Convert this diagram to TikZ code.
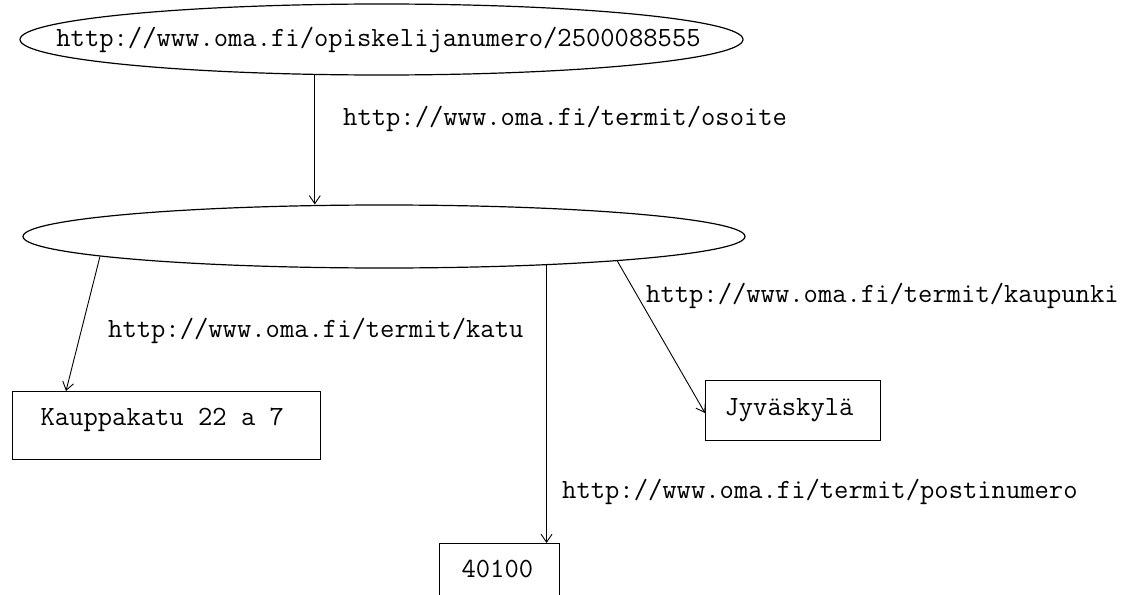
\documentclass[tikz,border=0pt]{standalone}
\usetikzlibrary{shapes.geometric,arrows.meta,calc}
\begin{document}
\begin{tikzpicture}[x=1pt,y=-1pt,
  every node/.style={font=\ttfamily\fontsize{27.8}{32}\selectfont},
  ell/.style={draw,ellipse,line width=1.2pt,inner sep=0pt},
  lit/.style={draw,rectangle,line width=1.2pt,inner ysep=0pt,anchor=north west},
  arr/.style={line width=0.9pt,-{Straight Barb[length=8pt,width=11pt]}},
  lab/.style={anchor=base west,inner sep=0pt}]
\useasboundingbox (0,0) rectangle (1129,594);
\clip (0,0) rectangle (1129,594);
\fill[white] (0,0) rectangle (1129,594);
% resources
\node[ell,minimum width=723pt,minimum height=71pt,text height=15pt,text depth=0pt] (e1) at (381.5,39.5) {\makebox[0pt]{http://www.oma.fi/opiskelijanumero/2500088555\hspace*{6pt}}};
\node[ell,minimum width=722pt,minimum height=63pt] (e2) at (384,236.5) {};
% literals
\node[lit,inner xsep=28pt,text height=34pt,text depth=34pt] (k) at (12,391) {\makebox[252pt][l]{Kauppakatu 22 a 7}};
\node[lit,inner xsep=19pt,text height=35pt,text depth=25pt] (j) at (705,380) {\makebox[137pt][l]{Jyväskylä}};
\node[lit,inner xsep=22pt,text height=34pt,text depth=34pt] (p) at (439,543) {\makebox[76pt][l]{40100}};
% connectors
\draw[arr] (e1.208) -- (e1.208 |- e2.north);
\draw[arr] (e2.184) -- ($(k.north west)+(54,0)$);
\draw[arr] (e2.350.2) -- (e2.350.2 |- p.north);
\draw[arr] (e2.354) -- ($(j.north west)+(0,33)$);
% labels
\node[lab] (l1) at (343,125) {http://www.oma.fi/termit/osoite};
\node[lab] (l2) at (108,337) {http://www.oma.fi/termit/katu};
\node[lab] (l3) at (646,302) {http://www.oma.fi/termit/kaupunki};
\node[lab] (l4) at (562,498) {http://www.oma.fi/termit/postinumero};
\end{tikzpicture}
\end{document}
